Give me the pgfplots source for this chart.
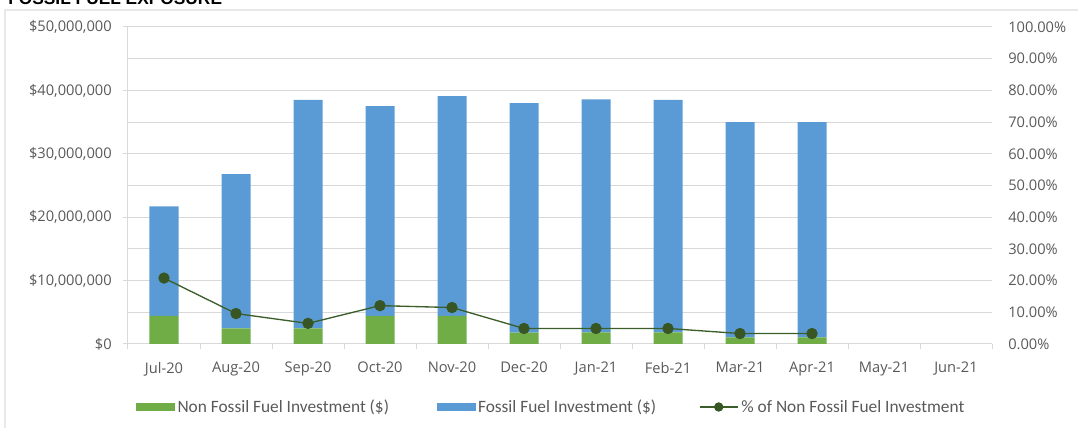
\documentclass[border=0pt]{standalone}
\usepackage{pgfplots}
\usepackage{pgfplotstable}
\pgfplotsset{compat=1.18}
\usepackage{fontspec}
\setmainfont{Open Sans}
\newfontfamily\legfont{Carlito}
\newfontfamily\titlefont{Liberation Sans}
\definecolor{nfgreen}{HTML}{70AD47}
\definecolor{fblue}{HTML}{5B9BD5}
\definecolor{linegreen}{HTML}{3B5E2B}
\definecolor{markgreen}{HTML}{375623}
\definecolor{gridgray}{HTML}{D9D9D9}
\definecolor{framegray}{HTML}{E8E8E8}
\definecolor{labgray}{HTML}{595959}

\pgfplotstableread{
x nf fossil pct
0 4.45e6 17.25e6 20.8
1 2.47e6 24.33e6 9.6
2 2.47e6 36.03e6 6.5
3 4.45e6 33.05e6 12.1
4 4.45e6 34.65e6 11.5
5 1.80e6 36.20e6 4.9
6 1.85e6 36.75e6 4.9
7 1.85e6 36.65e6 4.9
8 1.05e6 33.95e6 3.3
9 1.05e6 33.95e6 3.3
}\data

\begin{document}
\begin{tikzpicture}
\useasboundingbox (-96pt,-63pt) rectangle (712.5pt,258pt);
\draw[framegray, line width=1.5pt] (-92.25pt,-63pt) -- (-92.25pt,250.5pt) -- (712.5pt,250.5pt);
\node[anchor=base west, inner sep=0pt, font=\titlefont\bfseries\fontsize{13}{15}\selectfont] at (-90pt,254.25pt) {FOSSIL FUEL EXPOSURE};

\begin{axis}[
  at={(0pt,0pt)}, anchor=south west, scale only axis,
  width=648pt, height=237.75pt,
  xmin=-0.5, xmax=11.5, ymin=0, ymax=50000000,
  ybar stacked, bar width=21.75pt,
  axis x line*=bottom, axis y line*=left,
  axis line style={gridgray, line width=0.75pt},
  xtick={0,1,...,11},
  xticklabels={Jul-20,Aug-20,Sep-20,Oct-20,Nov-20,Dec-20,Jan-21,Feb-21,Mar-21,Apr-21,May-21,Jun-21},
  xtick style={draw=none},
  extra x ticks={-0.5,0.5,...,11.5},
  extra x tick labels={},
  extra x tick style={major tick length=4pt, xtick style={draw=gridgray, line width=0.75pt}, tick align=outside},
  ytick={0,10000000,20000000,30000000,40000000,50000000},
  yticklabels={\$0,{\$10,000,000},{\$20,000,000},{\$30,000,000},{\$40,000,000},{\$50,000,000}},
  minor ytick={5000000,15000000,25000000,35000000,45000000},
  scaled y ticks=false,
  ymajorgrids, yminorgrids,
  major grid style={gridgray, line width=0.75pt},
  minor grid style={gridgray, line width=0.75pt},
  ytick style={draw=gridgray, line width=0.75pt},
  tick align=outside, major tick length=4pt, minor tick length=0pt,
  ticklabel style={font=\fontsize{11}{13}\selectfont, text=labgray, inner sep=0pt},
  yticklabel style={anchor=east, xshift=-8pt},
  xticklabel style={anchor=north, yshift=-9.5pt},
  clip=false,
]
\addplot[fill=nfgreen, draw=none] table[x=x, y=nf] {\data};
\addplot[fill=fblue, draw=none] table[x=x, y=fossil] {\data};
\end{axis}

\begin{axis}[
  at={(0pt,0pt)}, anchor=south west, scale only axis,
  width=648pt, height=237.75pt,
  xmin=-0.5, xmax=11.5, ymin=0, ymax=100,
  axis x line=none, axis y line*=right,
  y axis line style={draw=none},
  ytick={0,10,...,100},
  yticklabels={0.00\%,10.00\%,20.00\%,30.00\%,40.00\%,50.00\%,60.00\%,70.00\%,80.00\%,90.00\%,100.00\%},
  major tick length=0pt, ytick style={draw=none},
  ticklabel style={font=\fontsize{11}{13}\selectfont, text=labgray, inner sep=0pt},
  yticklabel style={anchor=west, xshift=12pt},
  clip=false,
  legend columns=3,
  legend style={at={(0.00926,-0.1987)}, anchor=west, draw=none, fill=none,
    inner sep=0pt, outer sep=0pt, column sep=0pt,
    nodes={inner sep=0pt, font=\legfont\fontsize{13}{15}\selectfont, text=labgray}},
]
\addlegendimage{legend image code/.code={\fill[nfgreen] (0pt,-2.5pt) rectangle (28.5pt,2.5pt);}}
\addlegendentry{\makebox[196.5pt][l]{\hspace{2.25pt}Non Fossil Fuel Investment (\$)}}
\addlegendimage{legend image code/.code={\fill[fblue] (0pt,-2.5pt) rectangle (28.5pt,2.5pt);}}
\addlegendentry{\makebox[168pt][l]{\hspace{2.25pt}Fossil Fuel Investment (\$)}}
\addplot[linegreen, line width=1pt, mark=*, mark size=3.75pt,
  mark options={fill=markgreen, draw=markgreen},
  legend image code/.code={\draw[linegreen, line width=1pt] (0pt,0pt) -- (28.5pt,0pt); \fill[markgreen] (14.25pt,0pt) circle (3pt);}]
  table[x=x, y=pct] {\data};
\addlegendentry{\hspace{2.25pt}\% of Non Fossil Fuel Investment}
\end{axis}
\end{tikzpicture}
\end{document}
